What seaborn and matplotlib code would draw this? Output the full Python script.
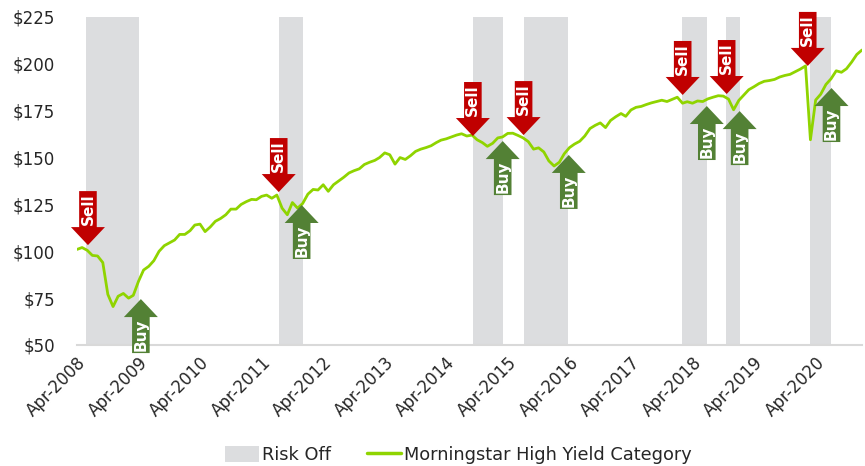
import numpy as np
import pandas as pd
import matplotlib
matplotlib.use("Agg")
import matplotlib.pyplot as plt
import matplotlib.dates as mdates
import matplotlib.transforms as mtransforms
from matplotlib.patches import Polygon, Patch
from matplotlib.lines import Line2D
import seaborn as sns

# ---------------- data ----------------
months = pd.date_range("2008-04-01", periods=154, freq="MS")
hy_values = [
    101.0, 102.0, 100.5, 97.8, 97.5, 94.0, 77.0, 70.5, 76.0, 77.5, 75.0, 76.5,   # Apr08-Mar09
    84.0, 90.0, 92.0, 95.0, 100.0, 103.0, 104.5, 106.0, 109.0, 109.0, 111.0, 114.0,  # Apr09-Mar10
    114.5, 110.5, 113.0, 116.0, 117.5, 119.5, 122.5, 122.5, 125.0, 126.5, 127.7, 127.5,  # Apr10-Mar11
    129.3, 130.0, 128.3, 130.0, 123.0, 119.5, 126.0, 123.0, 125.5, 130.5, 133.0, 132.7,  # Apr11-Mar12
    135.5, 132.0, 135.5, 137.5, 139.5, 141.8, 143.0, 144.0, 146.3, 147.5, 148.5, 150.0,  # Apr12-Mar13
    152.5, 151.5, 146.5, 150.0, 149.0, 151.0, 153.3, 154.5, 155.3, 156.3, 158.0, 159.3,  # Apr13-Mar14
    160.0, 161.0, 162.0, 162.7, 161.5, 162.0, 159.5, 158.0, 156.0, 157.6, 160.5, 161.0,  # Apr14-Mar15
    162.9, 163.0, 161.8, 160.5, 158.5, 154.5, 155.2, 153.0, 148.2, 145.5, 147.5, 152.0,  # Apr15-Mar16
    155.3, 157.2, 158.7, 161.5, 165.5, 167.2, 168.5, 166.0, 169.8, 171.8, 173.5, 172.0,  # Apr16-Mar17
    175.4, 176.8, 177.3, 178.3, 179.2, 179.9, 180.6, 179.9, 181.0, 182.2, 179.0, 179.8,  # Apr17-Mar18
    179.0, 180.2, 179.9, 181.3, 182.2, 183.0, 182.8, 181.2, 175.5, 180.5, 183.5, 186.2,  # Apr18-Mar19
    187.8, 189.5, 190.7, 191.1, 191.7, 193.0, 193.8, 194.4, 195.8, 197.2, 198.9, 159.5,  # Apr19-Mar20
    180.7, 183.8, 189.0, 192.0, 196.3, 195.5, 197.4, 201.0, 205.0, 207.4,              # Apr20-Jan21
]

risk_off_start = ["2008-05-24", "2011-07-14", "2014-09-06", "2015-07-04",
                  "2018-01-27", "2018-10-15", "2020-02-25"]
risk_off_end = ["2009-04-03", "2011-12-02", "2015-03-02", "2016-03-22",
                "2018-06-25", "2019-01-06", "2020-07-04"]

sell_dates = ["2008-06-05", "2011-07-12", "2014-09-06", "2015-07-04",
              "2018-02-02", "2018-10-21", "2020-02-14"]
sell_levels = [103.3, 131.6, 161.5, 162.0, 183.4, 183.9, 198.9]
buy_dates = ["2009-04-15", "2011-11-25", "2015-03-02", "2016-03-28",
             "2018-06-25", "2019-01-06", "2020-07-04"]
buy_levels = [74.5, 124.7, 158.8, 151.4, 177.5, 174.8, 187.1]

y_ticks = [50, 75, 100, 125, 150, 175, 200, 225]

# ---------------- style ----------------
LINE_C = "#8FD400"
SHADE_C = "#DCDDDF"
RED_C = "#C00000"
GREEN_C = "#538135"
TEXT_C = "#262626"
AXIS_C = "#D9D9D9"

sns.set_theme(style="white")
plt.rcParams["font.family"] = ["DejaVu Sans"]

fig = plt.figure(figsize=(8.65, 4.66), dpi=100)
ax = fig.add_axes([77 / 865, 1 - 345 / 466, (862 - 77) / 865, (345 - 17) / 466])

df = pd.DataFrame({"date": months, "value": hy_values})

for s, e in zip(risk_off_start, risk_off_end):
    ax.axvspan(pd.Timestamp(s), pd.Timestamp(e), color=SHADE_C, lw=0, zorder=0)

sns.lineplot(data=df, x="date", y="value", ax=ax, color=LINE_C, lw=2.0, zorder=2)

ax.set_xlim(months[0], months[-1])
ax.set_ylim(50, 225)
ax.set_yticks(y_ticks)
ax.set_yticklabels([f"${v}" for v in y_ticks])
ax.set_xlabel("")
ax.set_ylabel("")

ax.xaxis.set_major_locator(mdates.MonthLocator(bymonth=4))
ax.xaxis.set_major_formatter(mdates.DateFormatter("%b-%Y"))

for side in ["left", "right", "top"]:
    ax.spines[side].set_visible(False)
ax.spines["bottom"].set_color(AXIS_C)
ax.spines["bottom"].set_linewidth(1.5)

ax.tick_params(axis="y", length=0, pad=16, labelsize=12, labelcolor=TEXT_C)
ax.tick_params(axis="x", direction="inout", length=9, width=1.2, color=AXIS_C,
               labelsize=12, labelcolor=TEXT_C, pad=2)
for lbl in ax.get_xticklabels():
    lbl.set_rotation(45)
    lbl.set_ha("right")
    lbl.set_va("top")
    lbl.set_rotation_mode("anchor")

# ---------------- arrows ----------------
def px(v):
    return v / 100.0  # pixels -> inches at dpi 100


def draw_arrow(date, level, up, color, label):
    xnum = mdates.date2num(pd.Timestamp(date))
    trans = fig.dpi_scale_trans + mtransforms.ScaledTranslation(xnum, level, ax.transData)
    sgn = -1 if up else 1
    bw, hw, hl, L = 8.8, 17.0, 18.0, 54.0
    verts = [(-bw, L), (bw, L), (bw, hl), (hw, hl), (0, 0), (-hw, hl), (-bw, hl)]
    verts = [(px(x), px(sgn * y)) for x, y in verts]
    poly = Polygon(verts, closed=True, transform=trans, facecolor=color,
                   edgecolor="none", zorder=5, clip_on=False)
    ax.add_patch(poly)
    ax.text(0, px(sgn * (hl + L) / 2), label, transform=trans, rotation=90,
            ha="center", va="center", color="white", fontsize=11,
            fontweight="bold", zorder=6, clip_on=False)


for d, lv in zip(sell_dates, sell_levels):
    draw_arrow(d, lv, False, RED_C, "Sell")
for d, lv in zip(buy_dates, buy_levels):
    draw_arrow(d, lv, True, GREEN_C, "Buy")

# ---------------- legend ----------------
handles = [Patch(facecolor=SHADE_C, edgecolor="none", label="Risk Off"),
           Line2D([0], [0], color=LINE_C, lw=2.5, label="Morningstar High Yield Category")]
leg = ax.legend(handles=handles, loc="center", bbox_to_anchor=(0.486, -0.335),
                ncol=2, frameon=False, fontsize=12.8, handlelength=1.9,
                handleheight=1.0, handletextpad=0.2, columnspacing=2.0,
                labelcolor=TEXT_C)

fig.savefig("out.png", dpi=100)
